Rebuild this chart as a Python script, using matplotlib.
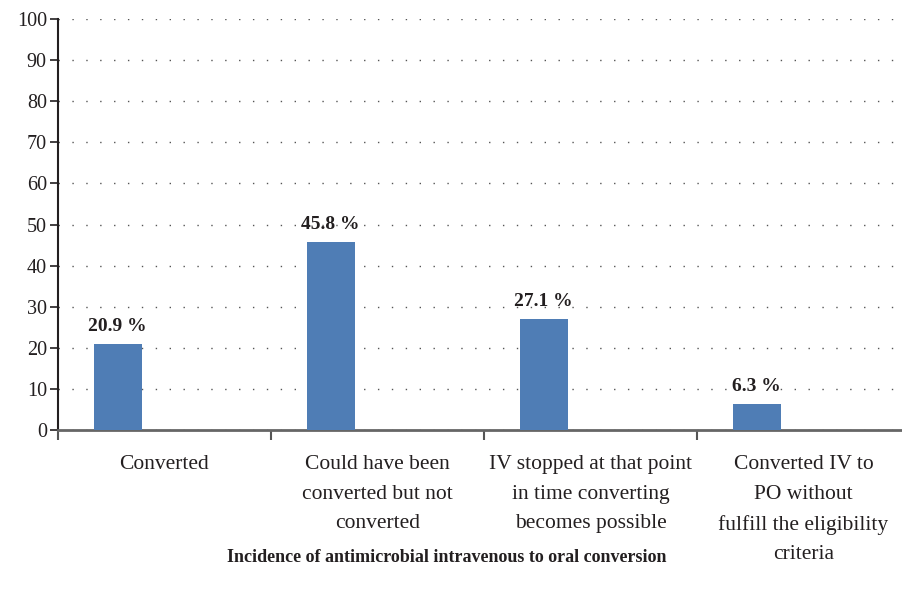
import matplotlib.pyplot as plt
import numpy as np

# data
categories = [
    "Converted",
    "Could have been\nconverted but not\nconverted",
    "IV stopped at that point\nin time converting\nbecomes possible",
    "Converted IV to\nPO without\nfulfill the eligibility\ncriteria",
]
values = [20.9, 45.8, 27.1, 6.3]
value_labels = ["20.9 %", "45.8 %", "27.1 %", "6.3 %"]
y_ticks = [0, 10, 20, 30, 40, 50, 60, 70, 80, 90, 100]
title = "Incidence of antimicrobial intravenous to oral conversion"

BAR_COLOR = "#4F7DB5"
TEXT_COLOR = "#231F20"

plt.rcParams["font.family"] = ["Liberation Serif", "DejaVu Serif"]

fig = plt.figure(figsize=(9.03, 5.97), dpi=100)
ax = fig.add_axes([0.0642, 0.2797, 0.9358, 0.6884])

x = np.arange(len(categories))
ax.bar(x + 0.28, values, width=0.225, color=BAR_COLOR, zorder=3)

for xi, v, lab in zip(x, values, value_labels):
    ax.text(xi + 0.28, v + 2.2, lab, ha="center", va="bottom",
            fontsize=14, fontweight="bold", color=TEXT_COLOR)

ax.set_xlim(0, 3.967)
ax.set_ylim(0, 100)

# y axis
ax.set_yticks(y_ticks)
ax.tick_params(axis="y", labelsize=14.5, labelcolor=TEXT_COLOR, length=6,
               width=1.2, color=TEXT_COLOR, direction="out", pad=2)
ax.yaxis.grid(True, linestyle=(0, (1, 9)), linewidth=1.0, color="#555555", zorder=0)

# x axis: boundaries as major ticks, category names as minor ticks
ax.set_xticks(x)
ax.set_xticklabels([])
ax.set_xticks(x + 0.5, minor=True)
ax.set_xticklabels(categories, minor=True, fontsize=15.5, color=TEXT_COLOR,
                   linespacing=1.75, va="top")
ax.tick_params(axis="x", which="minor", length=0, pad=18)
ax.tick_params(axis="x", which="major", length=7, width=1.5, color="#555555",
               direction="out")

for s in ["top", "right"]:
    ax.spines[s].set_visible(False)
ax.spines["left"].set_color(TEXT_COLOR)
ax.spines["left"].set_linewidth(1.5)
ax.spines["left"].set_bounds(0, 100)
ax.spines["bottom"].set_color("#666666")
ax.spines["bottom"].set_linewidth(2)

fig.text(447 / 903, 1 - 557 / 597, title, ha="center", va="center",
         fontsize=13, fontweight="bold", color=TEXT_COLOR)

fig.savefig("out.png", dpi=100)
